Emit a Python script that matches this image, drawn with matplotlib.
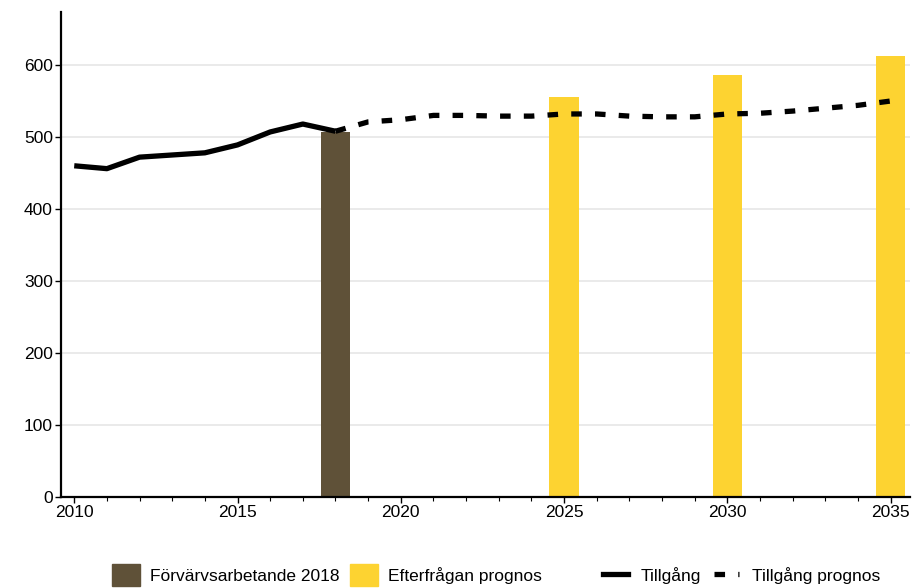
import matplotlib.pyplot as plt
from matplotlib.patches import Patch
from matplotlib.lines import Line2D

plt.rcParams['font.family'] = ['Liberation Sans', 'DejaVu Sans']

# Tillgång (historisk)
years_hist = [2010, 2011, 2012, 2013, 2014, 2015, 2016, 2017, 2018]
supply_hist = [460, 456, 472, 475, 478, 489, 507, 518, 508]

# Tillgång prognos
years_prog = [2018, 2019, 2020, 2021, 2022, 2023, 2024, 2025, 2026, 2027,
              2028, 2029, 2030, 2031, 2032, 2033, 2034, 2035]
supply_prog = [508, 521, 524, 530, 530, 529, 529, 532, 532, 529,
               528, 528, 532, 533, 536, 540, 544, 550]

# Staplar
emp_year = [2018]
emp_val = [507]
demand_years = [2025, 2030, 2035]
demand_vals = [556, 586, 612]

brown = '#5f5138'
yellow = '#fdd331'
fs = 12.5

fig = plt.figure(figsize=(9.13, 5.88), dpi=100)
ax = fig.add_axes([0.067, 0.155, 0.93, 0.825])

ax.bar(emp_year, emp_val, width=0.9, color=brown, zorder=2)
ax.bar(demand_years, demand_vals, width=0.9, color=yellow, zorder=2)

ax.plot(years_hist, supply_hist, color='black', lw=3.8, zorder=3,
        solid_capstyle='butt')
ax.plot(years_prog, supply_prog, color='black', lw=3.8, zorder=3,
        dashes=(2, 2.5))

ax.set_xlim(2009.6, 2035.6)
ax.set_ylim(0, 674)
ax.set_xticks([2010, 2015, 2020, 2025, 2030, 2035])
ax.set_xticks(range(2010, 2036), minor=True)
ax.set_yticks([0, 100, 200, 300, 400, 500, 600])
ax.tick_params(axis='both', labelsize=fs, direction='out', length=4,
               width=1, colors='black', pad=2)
ax.tick_params(axis='x', which='minor', length=3, width=0.8)
ax.grid(axis='y', color='#e6e6e6', lw=1.2, zorder=0)
ax.set_axisbelow(True)

for s in ['top', 'right']:
    ax.spines[s].set_visible(False)
for s in ['left', 'bottom']:
    ax.spines[s].set_linewidth(1.6)

bar_handles = [
    Patch(color=brown, label='Förvärvsarbetande 2018'),
    Patch(color=yellow, label='Efterfrågan prognos'),
]
line_handles = [
    Line2D([], [], color='black', lw=3.8, label='Tillgång'),
    Line2D([], [], color='black', lw=3.8, dashes=(2, 2.5), label='Tillgång prognos'),
]
leg1 = fig.legend(handles=bar_handles, loc='center left',
                  bbox_to_anchor=(0.1227, 0.022), ncol=2, frameon=False,
                  fontsize=fs, handlelength=1.6, handleheight=1.55,
                  columnspacing=0.63, handletextpad=0.57,
                  borderpad=0, borderaxespad=0)
leg2 = fig.legend(handles=line_handles, loc='center left',
                  bbox_to_anchor=(0.6605, 0.022), ncol=2, frameon=False,
                  fontsize=fs, handlelength=1.44,
                  columnspacing=0.75, handletextpad=0.75,
                  borderpad=0, borderaxespad=0)

fig.savefig('out.png', dpi=100)
